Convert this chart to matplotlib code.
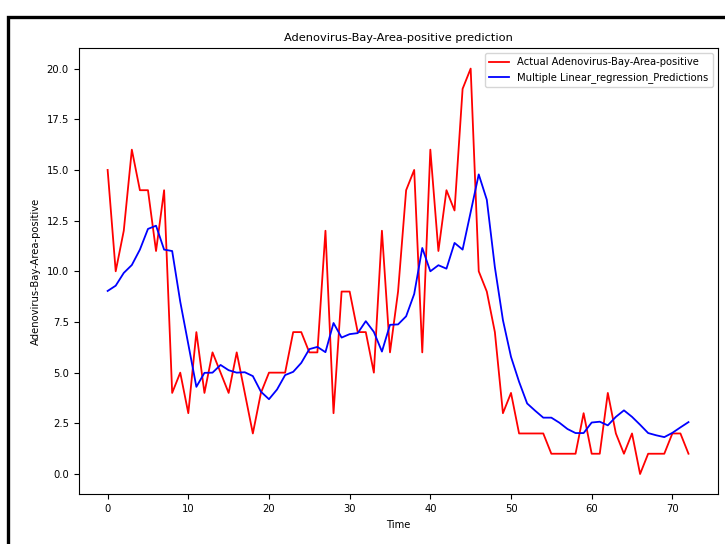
import matplotlib
matplotlib.use("Agg")
import matplotlib.pyplot as plt
from matplotlib.patches import Rectangle

# values
actual = [15, 10, 12, 16, 14, 14, 11, 14, 4, 5,
          3, 7, 4, 6, 5, 4, 6, 4, 2, 4,
          5, 5, 5, 7, 7, 6, 6, 12, 3, 9,
          9, 7, 7, 5, 12, 6, 9, 14, 15, 6,
          16, 11, 14, 13, 19, 20, 10, 9, 7, 3,
          4, 2, 2, 2, 2, 1, 1, 1, 1, 3,
          1, 1, 4, 2, 1, 2, 0, 1, 1, 1,
          2, 2, 1]

predicted = [9.03, 9.29, 9.92, 10.31, 11.07, 12.09, 12.25, 11.07, 11.0, 8.5,
             6.4, 4.3, 4.99, 5.0, 5.38, 5.12, 5.0, 5.02, 4.83, 4.06,
             3.69, 4.17, 4.88, 5.04, 5.48, 6.16, 6.27, 6.01, 7.45, 6.73,
             6.9, 6.95, 7.54, 7.01, 6.04, 7.36, 7.38, 7.78, 8.88, 11.15,
             10.0, 10.3, 10.13, 11.4, 11.07, 12.92, 14.78, 13.53, 10.2, 7.59,
             5.78, 4.55, 3.48, 3.12, 2.78, 2.78, 2.53, 2.22, 2.02, 2.02,
             2.54, 2.58, 2.4, 2.82, 3.14, 2.82, 2.43, 2.02, 1.91, 1.82,
             2.03, 2.3, 2.56]

time = list(range(len(actual)))

fig = plt.figure(figsize=(7.25, 5.44), dpi=100)
ax = fig.add_axes([0.1084, 0.0914, 0.8813, 0.8198])

ax.plot(time, actual, color='red', linewidth=1.3, label='Actual Adenovirus-Bay-Area-positive')
ax.plot(time, predicted, color='blue', linewidth=1.3, label='Multiple Linear_regression_Predictions')

ax.set_title('Adenovirus-Bay-Area-positive prediction', fontsize=8.2, pad=5)
ax.set_xlabel('Time', fontsize=7.2)
ax.set_ylabel('Adenovirus-Bay-Area-positive', fontsize=7.2)
ax.tick_params(labelsize=7.2)
ax.legend(fontsize=7.2)

# black frame of the screenshot (only left and top edges visible)
fig.patches.append(Rectangle((8 / 725, -0.2), 1.5, 1 - 16.5 / 544 + 0.2,
                             transform=fig.transFigure, fill=False,
                             edgecolor='black', linewidth=2.4, clip_on=False))

plt.savefig("out.png", dpi=100)
